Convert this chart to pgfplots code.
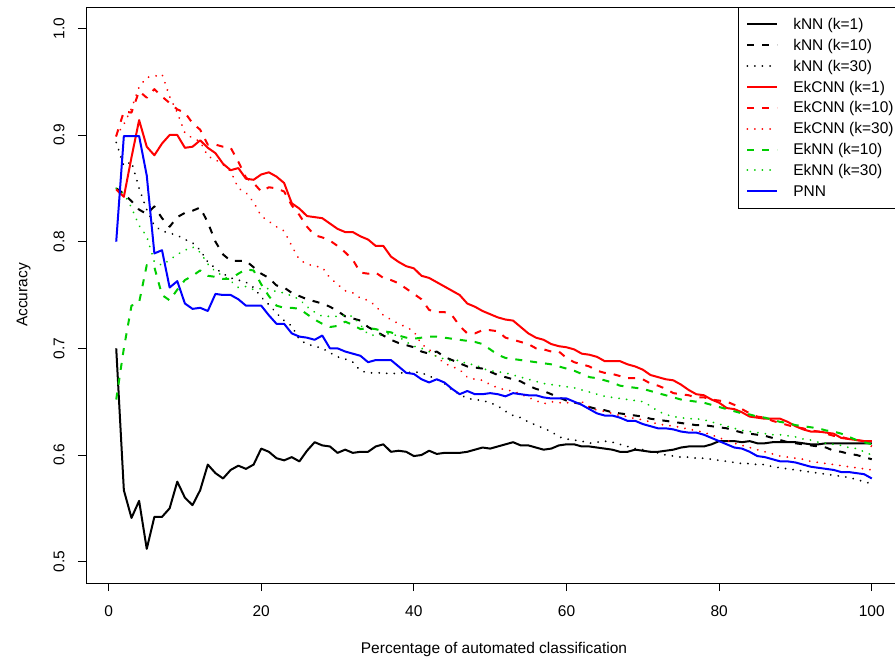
\documentclass[border=0pt]{standalone}
\usepackage{fontspec}
\setmainfont{Liberation Sans}
\usepackage{pgfplots}
\usepackage{pgfplotstable}
\pgfplotsset{compat=1.18}
\definecolor{rgreen}{RGB}{0,205,0}
\definecolor{rred}{RGB}{255,0,0}
\definecolor{rblue}{RGB}{0,0,255}
\pgfplotstableread{
x k1 k10 k30 c1 c10 c30 e10 e30 p
1 .700 .850 .893 .849 .899 .899 .652 .850 .800
2 .567 .845 .871 .842 .922 .910 .700 .845 .899
3 .541 .838 .875 .879 .921 .925 .740 .832 .899
4 .557 .830 .850 .914 .941 .945 .743 .815 .899
5 .512 .826 .830 .889 .935 .954 .778 .805 .862
6 .542 .833 .815 .881 .943 .955 .776 .781 .789
7 .542 .822 .810 .892 .936 .957 .750 .778 .792
8 .550 .814 .808 .900 .930 .936 .745 .783 .757
9 .575 .823 .806 .900 .924 .921 .755 .788 .763
10 .560 .827 .802 .888 .921 .902 .764 .792 .742
11 .553 .829 .799 .889 .911 .897 .768 .795 .737
12 .567 .832 .792 .895 .905 .894 .773 .790 .738
13 .591 .818 .781 .888 .891 .880 .768 .779 .735
14 .583 .800 .775 .883 .891 .877 .767 .772 .751
15 .578 .788 .770 .873 .889 .872 .765 .768 .750
16 .586 .782 .766 .867 .888 .866 .765 .763 .750
17 .590 .782 .764 .869 .875 .850 .770 .757 .746
18 .587 .782 .762 .859 .860 .846 .774 .758 .740
19 .591 .776 .757 .858 .855 .837 .773 .755 .740
20 .606 .770 .748 .863 .847 .824 .760 .756 .740
21 .603 .766 .741 .865 .851 .819 .749 .756 .731
22 .597 .759 .733 .861 .850 .814 .740 .753 .723
23 .595 .757 .726 .855 .847 .810 .738 .752 .723
24 .598 .752 .721 .836 .834 .796 .738 .749 .714
25 .594 .749 .708 .831 .825 .783 .737 .746 .711
26 .604 .746 .704 .824 .814 .779 .732 .739 .710
27 .612 .744 .702 .823 .806 .777 .727 .734 .708
28 .609 .742 .700 .822 .804 .776 .723 .730 .712
29 .608 .739 .696 .817 .801 .766 .720 .730 .700
30 .602 .735 .692 .812 .796 .760 .721 .730 .700
31 .605 .730 .690 .809 .790 .754 .725 .731 .697
32 .602 .728 .687 .809 .783 .752 .722 .730 .695
33 .603 .726 .679 .805 .771 .747 .718 .722 .693
34 .603 .720 .677 .802 .770 .745 .719 .713 .687
35 .608 .716 .677 .796 .771 .740 .718 .712 .689
36 .610 .712 .677 .796 .766 .731 .716 .713 .689
37 .603 .708 .676 .786 .764 .727 .715 .714 .689
38 .604 .705 .677 .781 .761 .723 .712 .711 .683
39 .603 .703 .677 .777 .756 .720 .710 .706 .677
40 .599 .701 .678 .775 .751 .716 .709 .702 .676
41 .600 .697 .677 .768 .746 .704 .710 .700 .671
42 .604 .695 .674 .766 .736 .699 .711 .697 .668
43 .601 .697 .671 .762 .734 .692 .711 .692 .671
44 .602 .692 .667 .758 .734 .686 .710 .690 .668
45 .602 .689 .661 .754 .731 .683 .709 .688 .662
46 .602 .686 .657 .750 .721 .680 .708 .689 .657
47 .603 .683 .653 .742 .714 .673 .707 .685 .660
48 .605 .682 .652 .739 .714 .671 .706 .685 .657
49 .607 .681 .651 .735 .717 .670 .704 .681 .657
50 .606 .678 .649 .732 .717 .666 .699 .679 .658
51 .608 .675 .646 .729 .716 .663 .694 .678 .657
52 .610 .673 .641 .727 .710 .661 .691 .677 .655
53 .612 .671 .637 .726 .708 .660 .690 .675 .658
54 .609 .669 .635 .720 .706 .657 .689 .673 .657
55 .609 .665 .631 .714 .704 .654 .688 .671 .656
56 .607 .662 .628 .710 .700 .651 .687 .669 .656
57 .605 .660 .625 .708 .699 .648 .686 .667 .654
58 .606 .657 .622 .704 .697 .650 .685 .666 .653
59 .609 .654 .617 .702 .697 .649 .683 .665 .653
60 .610 .651 .615 .701 .691 .649 .681 .664 .653
61 .610 .649 .614 .699 .687 .649 .679 .663 .650
62 .608 .648 .613 .695 .685 .650 .676 .661 .647
63 .608 .645 .611 .694 .683 .645 .673 .659 .643
64 .607 .643 .612 .692 .679 .642 .672 .657 .639
65 .606 .642 .613 .688 .677 .641 .670 .655 .637
66 .605 .640 .612 .688 .676 .639 .668 .654 .637
67 .603 .639 .610 .688 .674 .637 .665 .653 .635
68 .603 .638 .608 .685 .672 .636 .664 .652 .632
69 .605 .637 .606 .683 .672 .634 .663 .651 .632
70 .604 .636 .605 .680 .671 .633 .662 .650 .629
71 .603 .634 .603 .675 .667 .631 .660 .646 .627
72 .603 .633 .602 .673 .665 .629 .658 .641 .625
73 .604 .632 .600 .671 .662 .628 .656 .638 .625
74 .605 .631 .599 .670 .658 .627 .654 .636 .624
75 .607 .630 .598 .666 .657 .626 .652 .635 .622
76 .608 .629 .598 .661 .656 .624 .651 .634 .621
77 .608 .628 .597 .657 .654 .623 .650 .634 .621
78 .608 .628 .597 .656 .654 .621 .649 .633 .619
79 .610 .627 .596 .652 .652 .619 .647 .631 .616
80 .613 .626 .595 .649 .651 .616 .645 .629 .613
81 .613 .625 .594 .644 .650 .614 .643 .627 .610
82 .613 .623 .593 .643 .647 .611 .641 .625 .607
83 .612 .621 .592 .640 .643 .609 .639 .623 .606
84 .613 .620 .592 .636 .639 .607 .638 .622 .603
85 .611 .619 .591 .635 .636 .605 .636 .621 .599
86 .611 .618 .591 .634 .635 .603 .635 .620 .598
87 .612 .616 .589 .634 .632 .601 .633 .619 .596
88 .612 .614 .588 .634 .630 .599 .631 .619 .594
89 .612 .612 .587 .631 .628 .598 .630 .618 .594
90 .612 .611 .586 .627 .626 .597 .628 .617 .593
91 .611 .610 .585 .624 .625 .596 .627 .615 .591
92 .610 .609 .584 .622 .623 .594 .626 .614 .589
93 .610 .608 .583 .622 .622 .593 .625 .612 .588
94 .611 .607 .582 .621 .620 .592 .623 .611 .587
95 .611 .604 .581 .620 .618 .591 .622 .610 .586
96 .611 .603 .580 .616 .617 .590 .620 .609 .584
97 .611 .601 .579 .615 .615 .589 .617 .607 .584
98 .611 .600 .577 .614 .614 .588 .614 .606 .583
99 .611 .598 .575 .613 .613 .587 .612 .603 .582
100 .611 .596 .573 .613 .608 .586 .610 .600 .578
}\data
\newcommand{\rfont}{\fontsize{15.5bp}{18bp}\selectfont}
\begin{document}
\begin{tikzpicture}
\begin{axis}[
  scale only axis, width=816bp, height=576bp,
  xmin=-2.96, xmax=103.96, ymin=0.48, ymax=1.02,
  xtick={0,20,40,60,80,100}, ytick={0.5,0.6,0.7,0.8,0.9,1.0},
  xtick pos=lower, ytick pos=left, tick align=outside,
  major tick length=8bp,
  tick style={black, line width=0.8bp},
  axis line style={black, line width=0.8bp},
  /pgf/number format/assume math mode=true,
  ticklabel style={font=\rfont},
  yticklabel style={rotate=90, anchor=base, inner sep=0pt,
    /pgf/number format/fixed, /pgf/number format/fixed zerofill,
    /pgf/number format/precision=1},
  yticklabel shift=13.5bp,
  xticklabel style={anchor=north, inner sep=0pt},
  xticklabel shift=14.5bp,
  xlabel={Percentage of automated classification},
  ylabel={Accuracy},
  every axis x label/.style={at={(axis description cs:0.5,-0.1224)}, anchor=base, inner sep=0pt, font=\rfont},
  every axis y label/.style={at={(axis description cs:-0.0717,0.5)}, rotate=90, anchor=base, inner sep=0pt, font=\rfont},
  legend style={at={(axis description cs:1,1)}, anchor=north east, draw=black, fill=white,
    line width=0.8bp, font=\rfont, inner xsep=8bp, inner ysep=8bp,
    row sep=3.4bp, column sep=15bp,
    cells={anchor=west},
    nodes={inner sep=0pt, text height=14bp, text depth=3.5bp}},
  legend image code/.code={\draw[#1] (3bp,0bp) -- (33bp,0bp);},
  every axis plot/.append style={line width=2bp, line join=round},
  dashedR/.style={dash pattern=on 7bp off 8bp},
  dottedR/.style={line cap=round, dash pattern=on 0.01bp off 7.6bp},
]
\addplot[black] table[x=x,y=k1] {\data};
\addlegendentry{kNN (k=1)}
\addplot[black, dashedR] table[x=x,y=k10] {\data};
\addlegendentry{kNN (k=10)}
\addplot[black, dottedR] table[x=x,y=k30] {\data};
\addlegendentry{kNN (k=30)}
\addplot[rred] table[x=x,y=c1] {\data};
\addlegendentry{EkCNN (k=1)}
\addplot[rred, dashedR] table[x=x,y=c10] {\data};
\addlegendentry{EkCNN (k=10)}
\addplot[rred, dottedR] table[x=x,y=c30] {\data};
\addlegendentry{EkCNN (k=30)}
\addplot[rgreen, dashedR] table[x=x,y=e10] {\data};
\addlegendentry{EkNN (k=10)}
\addplot[rgreen, dottedR] table[x=x,y=e30] {\data};
\addlegendentry{EkNN (k=30)}
\addplot[rblue] table[x=x,y=p] {\data};
\addlegendentry{PNN}
\end{axis}
\pgfresetboundingbox
\useasboundingbox ([xshift=-86bp,yshift=-75bp]current axis.south west) rectangle ([xshift=-7bp,yshift=7bp]current axis.north east);
\end{tikzpicture}
\end{document}
